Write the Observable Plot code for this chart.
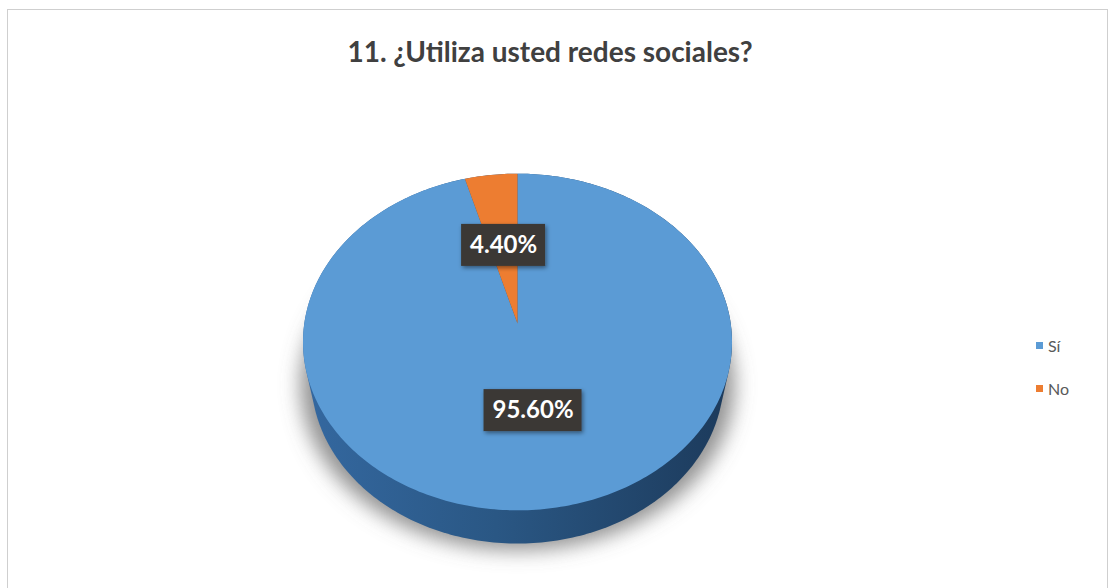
<!DOCTYPE html>
<html>
<head>
<meta charset="utf-8">
<script src="https://cdn.jsdelivr.net/npm/d3@7"></script>
<script src="https://cdn.jsdelivr.net/npm/@observablehq/plot@0.6"></script>
<style>
  html, body { margin: 0; padding: 0; background: #ffffff; }
  #wrap { position: relative; width: 1109px; height: 588px; overflow: hidden; font-family: Lato, "Open Sans", sans-serif; }
  #frame { position: absolute; left: 7px; top: 9px; width: 1101px; height: 640px; border: 1px solid #cfcfcf; box-sizing: border-box; }
  #chart { position: absolute; left: 0; top: 0; }
  #title { position: absolute; left: 0; top: 37px; width: 1100px; text-align: center; font-size: 28px; line-height: 28px; font-weight: bold; color: #404040; white-space: nowrap; }
  #legend { position: absolute; left: 1036px; top: 0; font-size: 16px; color: #595959; }
  .lg { position: absolute; left: 0; display: flex; align-items: center; height: 20px; white-space: nowrap; }
  .sw { width: 7px; height: 7px; margin-right: 5px; flex: none; }
</style>
</head>
<body>
<div id="wrap">
  <div id="frame"></div>
  <div id="chart"></div>
  <div id="title"></div>
  <div id="legend"></div>
</div>
<script>
// ---- data ----
const categories = ["Sí", "No"];
const values = [95.6, 4.4];
const labels = ["95.60%", "4.40%"];
const colors = ["#5b9bd5", "#ed7d31"];
const titleText = "11. ¿Utiliza usted redes sociales?";

// ---- layout (perspective 3D pie) ----
const W = 1109, H = 588;
const CX = 517, CY = 323, K = 213.2;        // screen centre & scale (px per radius)
const SIN = 0.78, COS = 0.625, DIST = 5.69; // tilt and camera distance
const THICK = 0.287;                          // pie thickness (in radii)

function proj(u, v, yw = 0) {
  const Y = v * SIN - yw * COS;
  const z = v * COS + yw * SIN;
  const p = DIST / (DIST - z);
  return {x: u * p, y: Y * p};
}

const arcs = d3.pie().sort(null).value(d => d.value)(
  categories.map((k, i) => ({key: k, value: values[i], label: labels[i]}))
);

// top face slices
const N = 360;
const slicePts = [];
for (const a of arcs) {
  slicePts.push({key: a.data.key, ...proj(0, 0)});
  const n = Math.max(3, Math.ceil((a.endAngle - a.startAngle) / (2 * Math.PI) * N));
  for (let j = 0; j <= n; j++) {
    const t = a.startAngle + (a.endAngle - a.startAngle) * j / n;
    slicePts.push({key: a.data.key, ...proj(Math.sin(t), -Math.cos(t))});
  }
  slicePts.push({key: a.data.key, ...proj(0, 0)});
}

// side (silhouette hull of top and bottom rims)
const rimPts = [];
for (let j = 0; j < N; j++) {
  const t = 2 * Math.PI * j / N;
  const a = proj(Math.sin(t), -Math.cos(t), 0);
  const b = proj(Math.sin(t), -Math.cos(t), -THICK);
  rimPts.push([a.x, a.y], [b.x, b.y]);
}
const hull = d3.polygonHull(rimPts);
hull.push(hull[0]);
const sidePts = hull.map(([x, y]) => ({x, y}));

// soft shadow under the pie
const shadowPts = [];
for (let j = 0; j <= N; j++) {
  const t = 2 * Math.PI * j / N;
  const b = proj(Math.sin(t) * 1.06, -Math.cos(t) * 1.0, -THICK - 0.06);
  shadowPts.push({x: b.x, y: b.y});
}

// labels
const labelData = arcs.map(a => {
  const m = (a.startAngle + a.endAngle) / 2;
  const c = proj(0.5 * Math.sin(m), -0.5 * Math.cos(m));
  const w = (14 * a.data.label.length + 14) / K;
  const h = 42 / K;
  return {...c, x1: c.x - w / 2, x2: c.x + w / 2, y1: c.y - h / 2, y2: c.y + h / 2, text: a.data.label};
});

const plot = Plot.plot({
  width: W,
  height: H,
  margin: 0,
  x: {domain: [-1, 1], range: [CX - K, CX + K], axis: null},
  y: {domain: [-1, 1], range: [CY - K, CY + K], axis: null},
  color: {domain: categories, range: colors},
  style: {background: "transparent", overflow: "visible"},
  marks: [
    Plot.line(shadowPts, {x: "x", y: "y", fill: "#6e6e6e", fillOpacity: 0.75, stroke: "none"}),
    Plot.line(sidePts, {x: "x", y: "y", fill: "url(#sideGrad)", stroke: "none"}),
    Plot.line(slicePts, {x: "x", y: "y", z: "key", fill: "key", stroke: "none"}),
    Plot.rect(labelData, {x1: "x1", x2: "x2", y1: "y1", y2: "y2", fill: "#3b3936"}),
    Plot.text(labelData, {x: "x", y: "y", text: "text", fill: "white", fontSize: 24, fontWeight: "bold", fontFamily: "Lato"})
  ]
});

// defs: gradient + filters
const svg = d3.select(plot);
const defs = svg.insert("defs", ":first-child");
const g = defs.append("linearGradient").attr("id", "sideGrad").attr("x1", 0).attr("x2", 1).attr("y1", 0).attr("y2", 0);
g.append("stop").attr("offset", "0%").attr("stop-color", "#3468a0");
g.append("stop").attr("offset", "45%").attr("stop-color", "#2a5784");
g.append("stop").attr("offset", "100%").attr("stop-color", "#1c3a5b");
const f1 = defs.append("filter").attr("id", "blurShadow").attr("x", "-20%").attr("y", "-20%").attr("width", "140%").attr("height", "140%");
f1.append("feGaussianBlur").attr("stdDeviation", 10);
const f2 = defs.append("filter").attr("id", "boxShadow").attr("x", "-20%").attr("y", "-30%").attr("width", "140%").attr("height", "160%");
f2.append("feDropShadow").attr("dx", 1.5).attr("dy", 2).attr("stdDeviation", 2).attr("flood-color", "#000").attr("flood-opacity", 0.45);

const groups = Array.from(plot.children).filter(n => n.tagName.toLowerCase() === "g");
if (groups[0]) groups[0].setAttribute("filter", "url(#blurShadow)");
if (groups[3]) groups[3].setAttribute("filter", "url(#boxShadow)");

document.getElementById("chart").appendChild(plot);

// title
document.getElementById("title").textContent = titleText;

// legend
const legendRowsY = [345, 388];
const legend = document.getElementById("legend");
categories.forEach((k, i) => {
  const row = document.createElement("div");
  row.className = "lg";
  row.style.top = (legendRowsY[i] - 10) + "px";
  const sw = document.createElement("span");
  sw.className = "sw";
  sw.style.background = colors[i];
  const tx = document.createElement("span");
  tx.textContent = k;
  row.appendChild(sw);
  row.appendChild(tx);
  legend.appendChild(row);
});
</script>
</body>
</html>
